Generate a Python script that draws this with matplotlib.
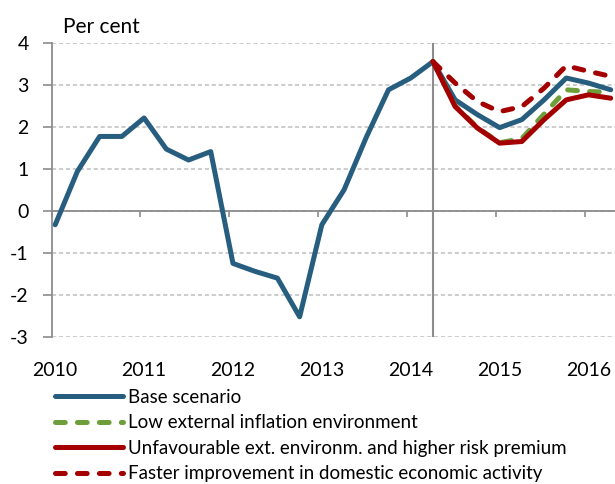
import matplotlib
matplotlib.use("Agg")
import matplotlib.pyplot as plt
import numpy as np

plt.rcParams['font.family'] = ['Lato', 'DejaVu Sans']
plt.rcParams['lines.scale_dashes'] = False
plt.rcParams['axes.unicode_minus'] = False

# quarterly data, 2010 Q1 - 2016 Q2
years = [2010, 2011, 2012, 2013, 2014, 2015, 2016]
quarter_x = 2010 + (np.arange(26) * 3 + 0.5) / 12
last_obs = 17  # 2014 Q2, start of projection

history = [-0.33, 0.94, 1.77, 1.77, 2.21, 1.47, 1.21, 1.41,
           -1.25, -1.44, -1.60, -2.52, -0.33, 0.50, 1.75, 2.88, 3.16, 3.55]
base_proj = [3.55, 2.64, 2.29, 1.98, 2.17, 2.64, 3.16, 3.04, 2.88]
low_infl = [3.55, 2.50, 1.98, 1.62, 1.72, 2.30, 2.88, 2.84, 2.82]
unfav = [3.55, 2.48, 1.97, 1.61, 1.65, 2.17, 2.64, 2.76, 2.68]
faster = [3.55, 3.04, 2.60, 2.36, 2.48, 2.92, 3.45, 3.32, 3.20]

labels = ["Base scenario",
          "Low external inflation environment",
          "Unfavourable ext. environm. and higher risk premium",
          "Faster improvement in domestic economic activity"]

blue = '#275E80'
green = '#6E9E3A'
red = '#A50000'
grey = '#8C8C8C'

fig = plt.figure(figsize=(6.15, 4.84), dpi=100)
ax = fig.add_axes([51.5 / 615, 147 / 484, 1 - 51.5 / 615, 294.3 / 484])

proj_x = quarter_x[last_obs:]
base_all = history + base_proj[1:]
lw = 3.6
dash = (0, (7, 8.8))

ax.plot(quarter_x, base_all, color=blue, lw=lw, solid_joinstyle='round',
        solid_capstyle='round', label=labels[0], zorder=3)
ax.plot(proj_x, low_infl, color=green, lw=lw, ls=dash, dash_capstyle='round',
        label=labels[1], zorder=4)
ax.plot(proj_x, unfav, color=red, lw=lw, solid_joinstyle='round',
        solid_capstyle='round', label=labels[2], zorder=5)
ax.plot(proj_x, faster, color=red, lw=lw, ls=dash, dash_capstyle='round',
        label=labels[3], zorder=6)

# projection start marker
ax.axvline(quarter_x[last_obs], color=grey, lw=1.5, zorder=2)

ax.set_xlim(2010.0, 2016.34)
ax.set_ylim(-3, 4)

# axes styling
for side in ['top', 'right']:
    ax.spines[side].set_visible(False)
ax.spines['left'].set_color(grey)
ax.spines['left'].set_linewidth(1.3)
ax.spines['bottom'].set_position(('data', 0))
ax.spines['bottom'].set_color(grey)
ax.spines['bottom'].set_linewidth(1.3)

ax.set_yticks(range(-3, 5))
ax.tick_params(axis='y', direction='out', length=6.5, width=1.2, color=grey,
               pad=10, labelsize=14)
ax.set_xticks(years)
ax.tick_params(axis='x', direction='out', length=4, width=1.2, color=grey,
               labelbottom=False)

ax.set_axisbelow(True)
ax.yaxis.grid(True, color='#BFBFBF', lw=1.1, ls=(0, (3, 2)))
ax.xaxis.grid(False)

# year labels sit under the plot area
sec = ax.secondary_xaxis(0.0)
sec.set_xticks(quarter_x[::4], labels=[str(y) for y in years])
sec.tick_params(length=0, pad=18, labelsize=14)
for s in sec.spines.values():
    s.set_visible(False)

fig.text(63 / 615, 1 - 33 / 484, "Per cent", fontsize=15, va='baseline')

fig.legend(loc='upper left', bbox_to_anchor=(55 / 615, 1 - 389 / 484),
           frameon=False, fontsize=13.5, handlelength=3.6, handletextpad=0.32,
           borderpad=0, borderaxespad=0, labelspacing=0.45)

fig.savefig("out.png", dpi=100)
